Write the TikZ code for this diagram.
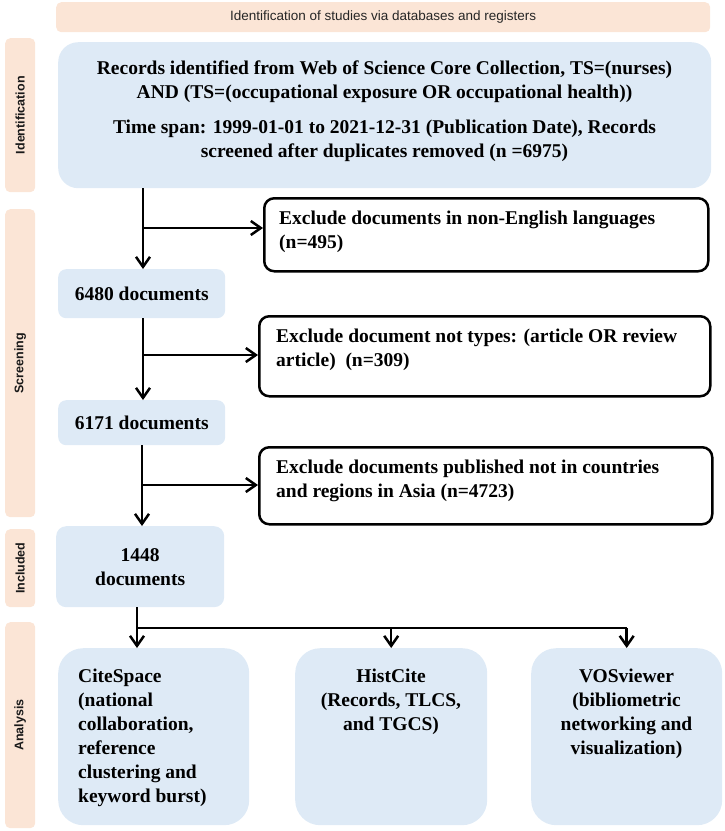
\documentclass[tikz,border=0pt]{standalone}
\usepackage{fontspec}
\setmainfont{Liberation Serif}
\setsansfont{Liberation Sans}
\usetikzlibrary{arrows.meta,calc}
\definecolor{boxblue}{HTML}{DEEAF6}
\definecolor{peach}{HTML}{FBE5D6}
\begin{document}
\begin{tikzpicture}[x=1pt,y=-1pt,
  bluebox/.style={fill=boxblue, draw=none, inner sep=0pt, anchor=north west, align=center,
    font=\bfseries\fontsize{19.5}{24}\selectfont},
  exclbox/.style={draw=black, line width=2.5pt, fill=white, rounded corners=10pt, inner sep=0pt, anchor=north west},
  sidebar/.style={fill=peach, draw=none, rounded corners=5pt, inner sep=0pt, anchor=north west},
  sidetxt/.style={rotate=90, font=\sffamily\bfseries\fontsize{12.5}{14}\selectfont, text=black!90},
  txt/.style={font=\bfseries\fontsize{19.5}{24}\selectfont, inner sep=0pt},
  conn/.style={line width=2.5pt, draw=black},
  arr/.style={conn, -{Straight Barb[length=10pt,width=14pt,line width=2.5pt]}}
]
\useasboundingbox (0,0) rectangle (724,831);

% header
\node[sidebar, minimum width=654, minimum height=30] (head) at (56,2) {};
\node[font=\sffamily\fontsize{13.5}{15}\selectfont, text=black!85] (headt) at (head.center) {Identification of studies via databases and registers};

% side bars
\node[sidebar, minimum width=30, minimum height=154] (sb1) at (5,38) {};
\node[sidetxt] (sb1t) at (sb1.center) {Identification};
\node[sidebar, minimum width=30, minimum height=308] (sb2) at (5,209) {};
\node[sidetxt] (sb2t) at (sb2.center) {Screening};
\node[sidebar, minimum width=30, minimum height=78] (sb3) at (5,529) {};
\node[sidetxt] (sb3t) at (sb3.center) {Included};
\node[sidebar, minimum width=30, minimum height=206] (sb4) at (5,622) {};
\node[sidetxt] (sb4t) at (sb4.center) {Analysis};

% main box
\node[bluebox, rounded corners=20pt, minimum width=653, minimum height=146] (main) at (58,42) {};
\node[txt, align=center] (mainA) at (384.5,82) {Records identified from Web of Science Core Collection, TS=(nurses)\\AND (TS=(occupational exposure OR occupational health))};
\node[txt, align=center] (mainB) at (384.5,140.5) {Time span: 1999-01-01 to 2021-12-31 (Publication Date), Records\\screened after duplicates removed (n =6975)};

% count boxes
\node[bluebox, rounded corners=8pt, minimum width=167, minimum height=49] (b1) at (58,269) {6480 documents};
\node[bluebox, rounded corners=8pt, minimum width=167, minimum height=45] (b2) at (58,400) {6171 documents};
\node[bluebox, rounded corners=10pt, minimum width=168, minimum height=81] (b3) at (56,526) {1448\\documents};

% exclusion boxes
\node[exclbox, minimum width=444, minimum height=73] (e1) at (263,197) {};
\node[txt, align=left, anchor=west] (e1t) at (279,231.5) {Exclude documents in non-English languages\\(n=495)};
\node[exclbox, minimum width=451, minimum height=80] (e2) at (258,315) {};
\node[txt, align=left, anchor=west] (e2t) at (276,350) {Exclude document not types: (article OR review\\article)\ \ (n=309)};
\node[exclbox, minimum width=453, minimum height=77] (e3) at (258,446) {};
\node[txt, align=left, anchor=west] (e3t) at (276,481) {Exclude documents published not in countries\\and regions in Asia (n=4723)};

% analysis boxes
\node[bluebox, rounded corners=25pt, minimum width=191, minimum height=177] (cite) at (58,648) {};
\node[txt, align=left, anchor=west] (citet) at (78,738) {CiteSpace\\(national\\collaboration,\\reference\\clustering and\\keyword burst)};
\node[bluebox, rounded corners=25pt, minimum width=192, minimum height=177] (hist) at (295,648) {};
\node[txt, align=center] (histt) at (391,702) {HistCite\\(Records, TLCS,\\and TGCS)};
\node[bluebox, rounded corners=25pt, minimum width=191, minimum height=177] (vos) at (531,648) {};
\node[txt, align=center] (vost) at (626.5,714) {VOSviewer\\(bibliometric\\networking and\\visualization)};

% connectors
\coordinate (t1) at (143,228);
\coordinate (t2) at (143,355);
\coordinate (t3) at (142,485);
\draw[arr] (main.south -| t1) -- (b1.north -| t1);
\draw[arr] (t1) -- (e1.west |- t1);
\draw[arr] (b1.south -| t2) -- (b2.north -| t2);
\draw[arr] (t2) -- (e2.west |- t2);
\draw[arr] (b2.south -| t3) -- (b3.north -| t3);
\draw[arr] (t3) -- (e3.west |- t3);

\coordinate (a0) at (137,628);
\draw[conn] (b3.south -| a0) -- (a0) -- (a0 -| vos.north);
\draw[arr] (a0) -- (a0 |- cite.north);
\draw[arr] (a0 -| hist.north) -- (hist.north);
\draw[arr] (a0 -| vos.north) -- (vos.north);
\end{tikzpicture}
\end{document}
